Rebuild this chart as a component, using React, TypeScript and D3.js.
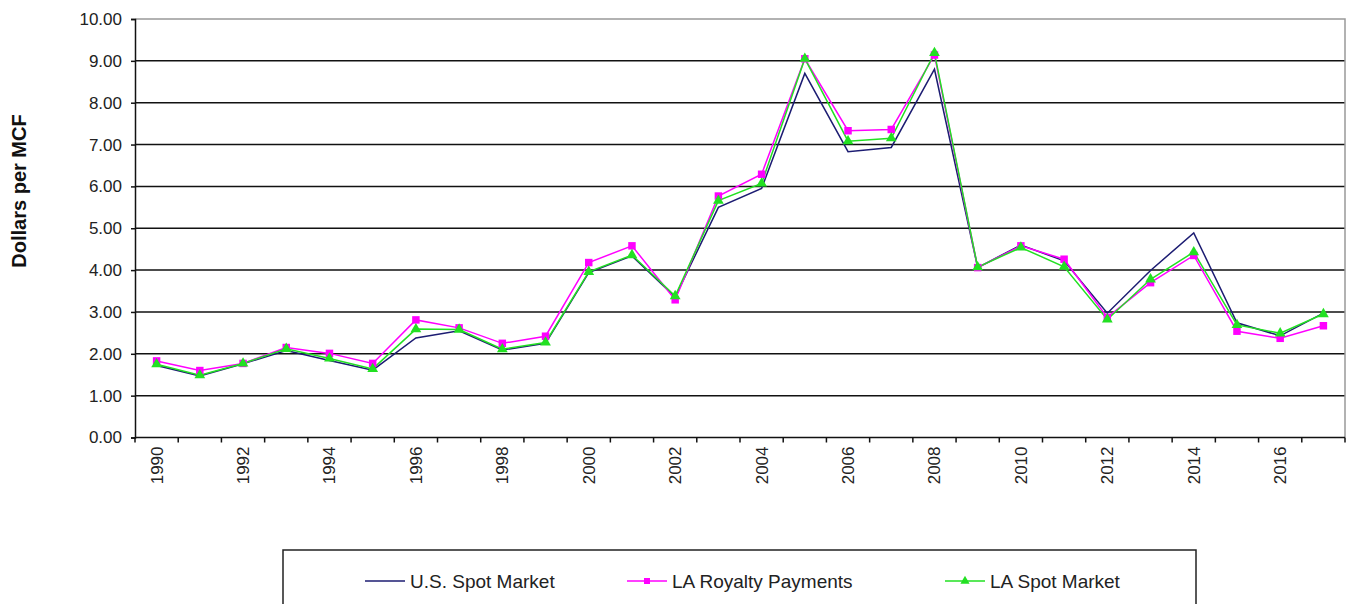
import React, { useEffect, useRef } from "react";
import * as d3 from "d3";

const years = [
  1990, 1991, 1992, 1993, 1994, 1995, 1996, 1997, 1998, 1999, 2000, 2001, 2002, 2003,
  2004, 2005, 2006, 2007, 2008, 2009, 2010, 2011, 2012, 2013, 2014, 2015, 2016, 2017,
];
const usSpot = [
  1.72, 1.47, 1.76, 2.08, 1.84, 1.61, 2.38, 2.55, 2.09, 2.25, 3.94, 4.34, 3.36, 5.5,
  5.95, 8.7, 6.83, 6.93, 8.8, 4.06, 4.6, 4.22, 2.97, 3.99, 4.89, 2.74, 2.43, 2.97,
];
const laRoyalty = [
  1.83, 1.6, 1.77, 2.15, 2.01, 1.77, 2.81, 2.62, 2.25, 2.42, 4.18, 4.58, 3.29, 5.77,
  6.29, 9.05, 7.33, 7.36, 9.14, 4.06, 4.58, 4.26, 2.87, 3.7, 4.35, 2.54, 2.37, 2.67,
];
const laSpot = [
  1.75, 1.49, 1.77, 2.12, 1.89, 1.64, 2.59, 2.58, 2.11, 2.27, 3.96, 4.36, 3.38, 5.66,
  6.07, 9.05, 7.08, 7.15, 9.19, 4.07, 4.54, 4.08, 2.82, 3.78, 4.43, 2.69, 2.49, 2.95,
];
const yTicks = [0, 1, 2, 3, 4, 5, 6, 7, 8, 9, 10];
const seriesNames = ["U.S. Spot Market", "LA Royalty Payments", "LA Spot Market"];

const FONT = "Arial, 'Liberation Sans', sans-serif";

const drawChart = (node: SVGSVGElement) => {
  const width = 1347;
  const height = 604;
  const marginLeft = 135;
  const marginRight = 2;
  const marginTop = 19;
  const plotBottom = 437.5;

  const svg = d3.select(node);
  svg.selectAll("*").remove();
  svg.attr("width", width).attr("height", height);

  svg.append("rect").attr("width", width).attr("height", height).attr("fill", "#fff");

  const x = d3
    .scaleBand<number>()
    .domain(years)
    .range([marginLeft, width - marginRight])
    .padding(0);
  const cx = (yr: number) => (x(yr) as number) + x.bandwidth() / 2;

  const y = d3.scaleLinear().domain([0, 10]).range([plotBottom, marginTop]);

  // gridlines
  svg
    .append("g")
    .selectAll("line")
    .data(yTicks.filter((d) => d > 0 && d < 10))
    .join("line")
    .attr("x1", marginLeft)
    .attr("x2", width - marginRight)
    .attr("y1", (d) => y(d))
    .attr("y2", (d) => y(d))
    .attr("stroke", "#111")
    .attr("stroke-width", 1.5);

  // plot border (top + right, grey)
  svg
    .append("path")
    .attr("d", `M${marginLeft},${y(10)}H${width - marginRight}V${plotBottom}`)
    .attr("fill", "none")
    .attr("stroke", "#999")
    .attr("stroke-width", 1.5);

  // y axis
  const yAxis = svg
    .append("g")
    .attr("transform", `translate(${marginLeft},0)`)
    .call(
      d3
        .axisLeft(y)
        .tickValues(yTicks)
        .tickFormat((d) => d3.format(".2f")(d as number))
        .tickSize(4)
        .tickPadding(9)
    );
  yAxis.select(".domain").attr("stroke", "#111").attr("stroke-width", 1.5);
  yAxis.selectAll(".tick line").attr("stroke", "#111").attr("stroke-width", 1.5);
  yAxis
    .selectAll(".tick text")
    .attr("font-family", FONT)
    .attr("font-size", 17)
    .attr("fill", "#222");

  // x axis: labels at category centres, ticks on category edges
  const xAxis = svg
    .append("g")
    .attr("transform", `translate(0,${plotBottom})`)
    .call(
      d3
        .axisBottom(x)
        .tickSize(0)
        .tickFormat((d) => ((d as number) % 2 === 0 ? String(d) : ""))
    );
  xAxis.select(".domain").remove();
  xAxis
    .selectAll(".tick text")
    .attr("transform", "rotate(-90)")
    .attr("x", -9)
    .attr("y", 0)
    .attr("dy", "0.35em")
    .attr("text-anchor", "end")
    .attr("font-family", FONT)
    .attr("font-size", 17)
    .attr("fill", "#222");

  const edges = years.map((yr) => x(yr) as number).concat([width - marginRight]);
  svg
    .append("g")
    .selectAll("line")
    .data(edges)
    .join("line")
    .attr("x1", (d) => d)
    .attr("x2", (d) => d)
    .attr("y1", plotBottom)
    .attr("y2", plotBottom + 5)
    .attr("stroke", "#111")
    .attr("stroke-width", 1.5);
  svg
    .append("line")
    .attr("x1", marginLeft)
    .attr("x2", width - marginRight)
    .attr("y1", plotBottom)
    .attr("y2", plotBottom)
    .attr("stroke", "#111")
    .attr("stroke-width", 1.5);

  // y axis title
  svg
    .append("text")
    .attr("transform", `translate(26,191) rotate(-90)`)
    .attr("text-anchor", "middle")
    .attr("font-family", FONT)
    .attr("font-size", 20)
    .attr("font-weight", "bold")
    .attr("fill", "#111")
    .text("Dollars per MCF");

  // series
  const line = d3
    .line<number>()
    .x((_, i) => cx(years[i]))
    .y((d) => y(d));

  const series = [
    { name: seriesNames[0], values: usSpot, color: "#1c1c72", marker: null },
    { name: seriesNames[1], values: laRoyalty, color: "#ff00ff", marker: d3.symbolSquare },
    { name: seriesNames[2], values: laSpot, color: "#22e022", marker: d3.symbolTriangle },
  ];

  series.forEach((s) => {
    svg
      .append("path")
      .datum(s.values)
      .attr("d", line)
      .attr("fill", "none")
      .attr("stroke", s.color)
      .attr("stroke-width", 1.5);
  });
  series.forEach((s) => {
    if (!s.marker) return;
    const sym = d3.symbol().type(s.marker).size(s.marker === d3.symbolSquare ? 56 : 50);
    svg
      .append("g")
      .selectAll("path")
      .data(s.values)
      .join("path")
      .attr("transform", (d, i) => `translate(${cx(years[i])},${y(d)})`)
      .attr("d", sym)
      .attr("fill", s.color);
  });

  // legend
  const legend = svg.append("g");
  legend
    .append("rect")
    .attr("x", 283)
    .attr("y", 550)
    .attr("width", 913)
    .attr("height", 90)
    .attr("fill", "#fff")
    .attr("stroke", "#222")
    .attr("stroke-width", 1.5);

  const legendX = [365, 627, 945];
  series.forEach((s, i) => {
    const g = legend.append("g").attr("transform", `translate(${legendX[i]},581)`);
    g.append("line")
      .attr("x1", 0)
      .attr("x2", 40)
      .attr("stroke", s.color)
      .attr("stroke-width", 1.5);
    if (s.marker) {
      g.append("path")
        .attr("transform", "translate(20,0)")
        .attr("d", d3.symbol().type(s.marker).size(36))
        .attr("fill", s.color);
    }
    g.append("text")
      .attr("x", 45)
      .attr("dy", "0.35em")
      .attr("font-family", FONT)
      .attr("font-size", 19)
      .attr("fill", "#222")
      .text(s.name);
  });
};

export default function App() {
  const ref = useRef<SVGSVGElement>(null);

  useEffect(() => {
    if (ref.current) drawChart(ref.current);
  }, []);

  return (
    <svg
      ref={ref}
      style={{ position: "absolute", left: 0, top: 0, display: "block" }}
    />
  );
}
